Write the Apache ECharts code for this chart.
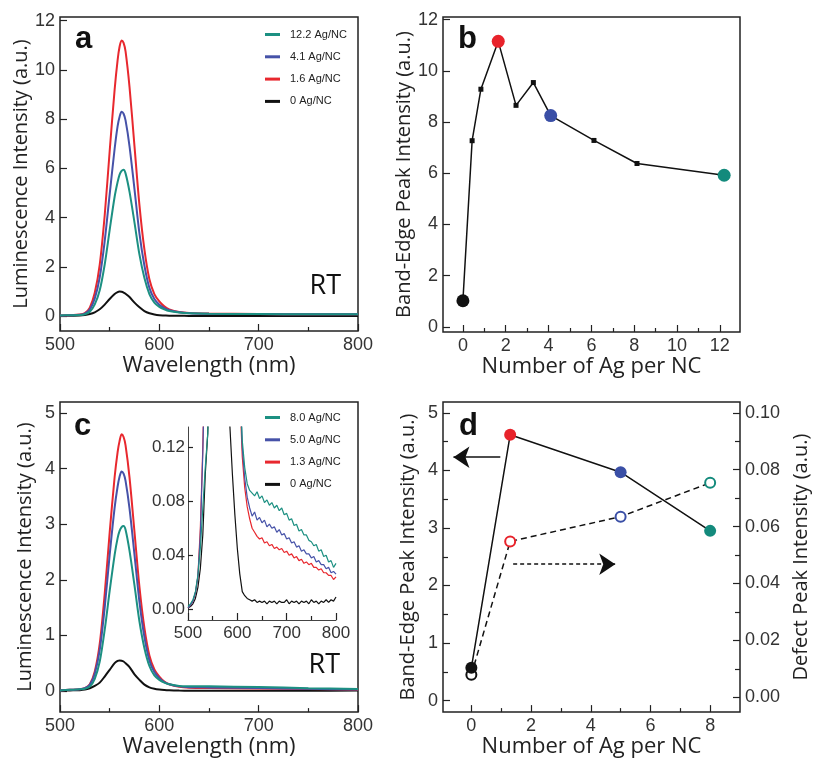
<!DOCTYPE html>
<html>
<head>
<meta charset="utf-8">
<script src="https://cdn.jsdelivr.net/npm/echarts@6/dist/echarts.min.js"></script>
<style>
  html, body { margin: 0; padding: 0; background: #fff; }
  #chart { width: 813px; height: 759px; }
</style>
</head>
<body>
<div id="chart"></div>
<script>
// wavelengths used for the main spectra (nm)
const W = [500, 510, 520, 525, 530, 535, 540, 545, 550, 555, 558, 560, 562, 564, 566, 570, 575, 580, 585, 590, 595, 600, 605, 610, 620, 630, 650, 700, 750, 800];

// panel a spectra
const aTeal = [0.03, 0.04, 0.05, 0.08, 0.18, 0.48, 1.05, 2.1, 3.5, 4.85, 5.45, 5.75, 5.9, 5.95, 5.8, 5.05, 3.8, 2.5, 1.55, 0.9, 0.55, 0.38, 0.28, 0.21, 0.15, 0.12, 0.1, 0.09, 0.08, 0.08];
const aBlue = [0.03, 0.04, 0.06, 0.11, 0.27, 0.72, 1.58, 3.05, 4.95, 6.8, 7.72, 8.1, 8.3, 8.22, 7.95, 6.9, 5.15, 3.35, 2.05, 1.15, 0.7, 0.47, 0.33, 0.24, 0.16, 0.12, 0.1, 0.09, 0.08, 0.08];
const aRed = [0.03, 0.04, 0.07, 0.13, 0.35, 0.95, 2.1, 4.1, 6.7, 9.2, 10.4, 10.95, 11.2, 11.1, 10.75, 9.3, 6.9, 4.5, 2.7, 1.5, 0.9, 0.6, 0.4, 0.28, 0.17, 0.13, 0.11, 0.09, 0.08, 0.08];
const aBlack = [0.01, 0.02, 0.03, 0.05, 0.09, 0.16, 0.28, 0.47, 0.7, 0.9, 0.98, 1.0, 0.99, 0.96, 0.91, 0.78, 0.55, 0.36, 0.21, 0.12, 0.07, 0.04, 0.03, 0.02, 0.02, 0.01, 0.01, 0.01, 0.01, 0.01];

// panel b
const bX = [0, 0.43, 0.84, 1.65, 2.48, 3.29, 4.1, 6.12, 8.13, 12.2];
const bY = [1.02, 7.27, 9.28, 11.15, 8.65, 9.54, 8.25, 7.28, 6.38, 5.92];
const bHiX = [0, 1.65, 4.1, 12.2];
const bHiY = [1.02, 11.15, 8.25, 5.92];

// panel c spectra
const cTeal = [0.01, 0.02, 0.03, 0.04, 0.08, 0.22, 0.53, 1.1, 1.8, 2.45, 2.75, 2.88, 2.95, 2.97, 2.9, 2.52, 1.9, 1.25, 0.77, 0.45, 0.28, 0.2, 0.15, 0.12, 0.09, 0.086, 0.084, 0.071, 0.05, 0.034];
const cBlue = [0.01, 0.02, 0.03, 0.05, 0.11, 0.31, 0.74, 1.5, 2.45, 3.3, 3.68, 3.86, 3.95, 3.91, 3.78, 3.28, 2.45, 1.6, 0.97, 0.55, 0.34, 0.23, 0.16, 0.12, 0.083, 0.069, 0.064, 0.052, 0.038, 0.026];
const cRed = [0.01, 0.02, 0.03, 0.05, 0.12, 0.35, 0.85, 1.75, 2.85, 3.85, 4.3, 4.5, 4.62, 4.57, 4.42, 3.84, 2.86, 1.87, 1.13, 0.64, 0.39, 0.26, 0.17, 0.12, 0.075, 0.06, 0.053, 0.043, 0.034, 0.024];
const cBlack = [0.005, 0.01, 0.015, 0.025, 0.05, 0.09, 0.15, 0.26, 0.38, 0.5, 0.54, 0.55, 0.545, 0.53, 0.5, 0.43, 0.3, 0.2, 0.115, 0.066, 0.04, 0.025, 0.016, 0.011, 0.007, 0.006, 0.005, 0.006, 0.005, 0.008];

// inset of panel c (zoomed low-intensity region)
const IW = [500, 505, 510, 515, 520, 525, 530, 535, 540, 545, 550, 580, 585, 590, 595, 600, 605, 610, 615, 620, 625, 630, 635, 640, 645, 650, 655, 660, 665, 670, 675, 680, 685, 690, 695, 700, 705, 710, 715, 720, 725, 730, 735, 740, 745, 750, 755, 760, 765, 770, 775, 780, 785, 790, 795, 800];
const iTeal = [0.002, 0.004, 0.007, 0.013, 0.025, 0.045, 0.075, 0.105, 0.13, 0.2, 0.5, 2.0, 1.2, 0.75, 0.45, 0.28, 0.17, 0.125, 0.105, 0.093, 0.088, 0.086, 0.084, 0.087, 0.082, 0.084, 0.079, 0.081, 0.077, 0.079, 0.075, 0.077, 0.073, 0.075, 0.07, 0.071, 0.066, 0.067, 0.062, 0.063, 0.058, 0.059, 0.055, 0.055, 0.051, 0.05, 0.047, 0.048, 0.043, 0.044, 0.039, 0.04, 0.035, 0.036, 0.031, 0.034];
const iBlue = [0.001, 0.003, 0.006, 0.012, 0.024, 0.055, 0.115, 0.2, 0.3, 0.5, 1.0, 3.0, 1.8, 1.0, 0.55, 0.3, 0.17, 0.12, 0.097, 0.083, 0.075, 0.069, 0.072, 0.066, 0.068, 0.064, 0.066, 0.061, 0.063, 0.06, 0.061, 0.057, 0.059, 0.055, 0.056, 0.052, 0.053, 0.049, 0.05, 0.046, 0.047, 0.043, 0.044, 0.041, 0.041, 0.038, 0.039, 0.035, 0.036, 0.033, 0.033, 0.03, 0.031, 0.027, 0.028, 0.026];
const iRed = [0.001, 0.003, 0.006, 0.012, 0.024, 0.06, 0.12, 0.21, 0.32, 0.55, 1.1, 3.5, 2.0, 1.1, 0.6, 0.3, 0.16, 0.113, 0.09, 0.076, 0.067, 0.06, 0.057, 0.054, 0.052, 0.053, 0.049, 0.05, 0.047, 0.048, 0.045, 0.046, 0.044, 0.045, 0.042, 0.043, 0.04, 0.041, 0.038, 0.039, 0.036, 0.037, 0.034, 0.035, 0.033, 0.034, 0.031, 0.031, 0.029, 0.03, 0.027, 0.027, 0.025, 0.025, 0.022, 0.024];
const iBlack = [0.001, 0.002, 0.004, 0.008, 0.016, 0.03, 0.055, 0.1, 0.13, 0.2, 0.35, 0.2, 0.135, 0.1, 0.07, 0.045, 0.026, 0.013, 0.01, 0.008, 0.007, 0.006, 0.007, 0.005, 0.006, 0.005, 0.006, 0.004, 0.006, 0.005, 0.006, 0.004, 0.006, 0.005, 0.005, 0.007, 0.004, 0.006, 0.005, 0.006, 0.004, 0.006, 0.005, 0.006, 0.004, 0.007, 0.005, 0.006, 0.004, 0.006, 0.005, 0.007, 0.005, 0.007, 0.006, 0.009];

// panel d
const dX = [0, 1.3, 5.0, 8.0];
const dBand = [0.57, 4.62, 3.97, 2.95];
const dDefect = [0.0079, 0.0548, 0.0635, 0.0754];
const arrowLeft = [[0.97, 4.23], [-0.6, 4.23]];
const arrowRight = [[1.4, 2.37], [4.82, 2.37]];

// tick values
const ticksA = [0, 2, 4, 6, 8, 10, 12];
const ticksBx = [0, 2, 4, 6, 8, 10, 12];
const minorBx = [1, 3, 5, 7, 9, 11];
const ticksC = [0, 1, 2, 3, 4, 5];
const ticksDx = [0, 2, 4, 6, 8];
const minorDx = [1, 3, 5, 7];
const ticksDl = [0, 1, 2, 3, 4, 5];
const minorDl = [0.5, 1.5, 2.5, 3.5, 4.5];
const ticksDr = [0, 0.02, 0.04, 0.06, 0.08, 0.1];
const minorDr = [0.01, 0.03, 0.05, 0.07, 0.09];
const ticksInset = [0, 0.04, 0.08, 0.12];

const RED = '#e8232b', BLUE = '#3a4fa6', TEAL = '#138a7c', BLACK = '#111';
const LINE_TEAL = '#1c9082', LINE_BLUE = '#4652a8', LINE_RED = '#e8282e';
const colorsPts = [BLACK, RED, BLUE, TEAL];

const zip = (xs, ys) => xs.map((x, i) => [x, ys[i]]);

const labelFont = { color: '#333', fontSize: 18, fontFamily: 'Liberation Sans' };

function valAxis(o) {
  const ax = {
    type: 'value',
    gridIndex: o.grid,
    position: o.position,
    min: o.min,
    max: o.max,
    axisLine: { show: !!o.line, onZero: false, lineStyle: { color: '#444', width: 1 } },
    splitLine: { show: false },
    minorSplitLine: { show: false },
    axisTick: { inside: true, length: o.tickLen || 7, lineStyle: { color: '#222', width: 1.2 } },
    axisLabel: Object.assign({ margin: o.margin || 5, show: !o.noLabel }, labelFont, o.label || {})
  };
  if (o.interval) {
    ax.interval = o.interval;
    ax.minorTick = { show: true, splitNumber: 2, length: 4, lineStyle: { color: '#222', width: 1.2 } };
  }
  if (o.ticks) {
    ax.axisTick.customValues = o.ticks;
    ax.axisLabel.customValues = o.ticks;
  }
  if (o.name) {
    ax.name = o.name;
    ax.nameLocation = 'middle';
    ax.nameGap = o.nameGap;
    ax.nameTextStyle = { color: '#222', fontSize: o.nameSize, fontFamily: 'Open Sans' };
  }
  return ax;
}

const gridStyle = { show: true, borderColor: '#222', borderWidth: 1.5, backgroundColor: 'transparent' };

const option = {
  animation: false,
  backgroundColor: '#fff',
  grid: [
    Object.assign({ left: 60, top: 17, width: 298, height: 314 }, gridStyle),
    Object.assign({ left: 443, top: 17, width: 297, height: 315 }, gridStyle),
    Object.assign({ left: 60, top: 402, width: 298, height: 312 }, gridStyle),
    Object.assign({ left: 443, top: 402, width: 297, height: 313 }, gridStyle),
    { left: 188, top: 427, width: 148, height: 193, show: false }
  ],
  xAxis: [
    valAxis({ grid: 0, position: 'bottom', min: 500, max: 800, interval: 100, name: 'Wavelength (nm)', nameGap: 15, nameSize: 22 }),
    valAxis({ grid: 1, position: 'bottom', min: -0.93, max: 12.94, ticks: ticksBx, name: 'Number of Ag per NC', nameGap: 14, nameSize: 22 }),
    valAxis({ grid: 1, position: 'bottom', min: -0.93, max: 12.94, ticks: minorBx, tickLen: 4, noLabel: true }),
    valAxis({ grid: 2, position: 'bottom', min: 500, max: 800, interval: 100, name: 'Wavelength (nm)', nameGap: 20, nameSize: 22 }),
    valAxis({ grid: 3, position: 'bottom', min: -0.95, max: 9.0, ticks: ticksDx, name: 'Number of Ag per NC', nameGap: 16, nameSize: 22 }),
    valAxis({ grid: 3, position: 'bottom', min: -0.95, max: 9.0, ticks: minorDx, tickLen: 4, noLabel: true }),
    valAxis({ grid: 4, position: 'bottom', min: 500, max: 800, interval: 100, line: true, margin: 5, label: { fontSize: 17 } })
  ],
  yAxis: [
    valAxis({ grid: 0, position: 'left', min: -0.6, max: 12.15, ticks: ticksA, name: 'Luminescence Intensity (a.u.)', nameGap: 25, nameSize: 20 }),
    valAxis({ grid: 1, position: 'left', min: -0.2, max: 12.1, ticks: ticksA, name: 'Band-Edge Peak Intensity (a.u.)', nameGap: 25, nameSize: 20 }),
    valAxis({ grid: 2, position: 'left', min: -0.38, max: 5.2, ticks: ticksC, name: 'Luminescence Intensity (a.u.)', nameGap: 25, nameSize: 20 }),
    valAxis({ grid: 3, position: 'left', min: -0.2, max: 5.19, ticks: ticksDl, name: 'Band-Edge Peak Intensity (a.u.)', nameGap: 25, nameSize: 20 }),
    valAxis({ grid: 3, position: 'left', min: -0.2, max: 5.19, ticks: minorDl, tickLen: 5, noLabel: true }),
    valAxis({ grid: 3, position: 'right', min: -0.0052, max: 0.1038, ticks: ticksDr, name: 'Defect Peak Intensity (a.u.)', nameGap: 51, nameSize: 20,
      label: { formatter: v => v.toFixed(2) } }),
    valAxis({ grid: 3, position: 'right', min: -0.0052, max: 0.1038, ticks: minorDr, tickLen: 5, noLabel: true }),
    valAxis({ grid: 4, position: 'left', min: -0.008, max: 0.135, ticks: ticksInset, line: true, tickLen: 5, margin: 3,
      label: { fontSize: 17, formatter: v => v.toFixed(2) } })
  ],
  legend: [
    {
      left: 265, top: 29, orient: 'vertical', padding: 0, itemGap: 11.3, itemWidth: 15, itemHeight: 3, icon: 'rect',
      textStyle: { fontSize: 11, fontFamily: 'Liberation Sans', color: '#222', padding: [0, 0, 0, 5] },
      data: ['12.2 Ag/NC', '4.1 Ag/NC', '1.6 Ag/NC', '0 Ag/NC']
    },
    {
      left: 265, top: 412, orient: 'vertical', padding: 0, itemGap: 11.3, itemWidth: 15, itemHeight: 3, icon: 'rect',
      textStyle: { fontSize: 11, fontFamily: 'Liberation Sans', color: '#222', padding: [0, 0, 0, 5] },
      data: ['8.0 Ag/NC', '5.0 Ag/NC', '1.3 Ag/NC', '0 Ag/NC']
    }
  ],
  graphic: [
    { type: 'text', x: 75, y: 39, style: { text: 'a', font: 'bold 31px "Liberation Sans"', fill: '#111', verticalAlign: 'middle' } },
    { type: 'text', x: 458, y: 39, style: { text: 'b', font: 'bold 31px "Liberation Sans"', fill: '#111', verticalAlign: 'middle' } },
    { type: 'text', x: 74, y: 426, style: { text: 'c', font: 'bold 31px "Liberation Sans"', fill: '#111', verticalAlign: 'middle' } },
    { type: 'text', x: 459, y: 426, style: { text: 'd', font: 'bold 31px "Liberation Sans"', fill: '#111', verticalAlign: 'middle' } },
    { type: 'text', x: 341, y: 286, style: { text: 'RT', font: '27px "Open Sans"', fill: '#111', align: 'right', verticalAlign: 'middle' } },
    { type: 'text', x: 340, y: 665, style: { text: 'RT', font: '27px "Open Sans"', fill: '#111', align: 'right', verticalAlign: 'middle' } }
  ],
  series: []
};

function spectrum(name, xi, yi, xs, ys, color, width) {
  return {
    name: name, type: 'line', xAxisIndex: xi, yAxisIndex: yi,
    data: zip(xs, ys), showSymbol: false, smooth: width > 1.5 ? 0.3 : false,
    lineStyle: { color: color, width: width }, itemStyle: { color: color }
  };
}

option.series.push(
  spectrum('0 Ag/NC', 0, 0, W, aBlack, BLACK, 2),
  spectrum('1.6 Ag/NC', 0, 0, W, aRed, LINE_RED, 2),
  spectrum('4.1 Ag/NC', 0, 0, W, aBlue, LINE_BLUE, 2),
  spectrum('12.2 Ag/NC', 0, 0, W, aTeal, LINE_TEAL, 2),
  spectrum('0 Ag/NC', 3, 2, W, cBlack, BLACK, 2),
  spectrum('1.3 Ag/NC', 3, 2, W, cRed, LINE_RED, 2),
  spectrum('5.0 Ag/NC', 3, 2, W, cBlue, LINE_BLUE, 2),
  spectrum('8.0 Ag/NC', 3, 2, W, cTeal, LINE_TEAL, 2),
  spectrum('inset 0', 6, 7, IW, iBlack, BLACK, 1.2),
  spectrum('inset 1.3', 6, 7, IW, iRed, LINE_RED, 1.2),
  spectrum('inset 5.0', 6, 7, IW, iBlue, LINE_BLUE, 1.2),
  spectrum('inset 8.0', 6, 7, IW, iTeal, LINE_TEAL, 1.2)
);

// panel b
option.series.push(
  {
    name: 'b line', type: 'line', xAxisIndex: 1, yAxisIndex: 1, data: zip(bX, bY), z: 2,
    symbol: 'rect', symbolSize: 5, lineStyle: { color: BLACK, width: 1.5 }, itemStyle: { color: BLACK }
  },
  {
    name: 'b points', type: 'scatter', xAxisIndex: 1, yAxisIndex: 1, symbolSize: 13, z: 5,
    data: bHiX.map((x, i) => ({ value: [x, bHiY[i]], itemStyle: { color: colorsPts[i], opacity: 1 } }))
  }
);

// panel d
option.series.push(
  {
    name: 'd defect', type: 'line', xAxisIndex: 4, yAxisIndex: 5,
    data: dX.map((x, i) => ({ value: [x, dDefect[i]], itemStyle: { color: colorsPts[i], borderWidth: 2 } })),
    symbol: 'emptyCircle', symbolSize: 10, lineStyle: { color: BLACK, width: 1.5, type: [6, 4] }
  },
  {
    name: 'd band', type: 'line', xAxisIndex: 4, yAxisIndex: 3,
    data: dX.map((x, i) => ({ value: [x, dBand[i]], itemStyle: { color: colorsPts[i] } })),
    symbol: 'circle', symbolSize: 12, lineStyle: { color: BLACK, width: 1.5 },
    markLine: {
      silent: true, symbol: ['none', 'arrow'], symbolSize: 16, label: { show: false },
      lineStyle: { color: BLACK, width: 1.5, type: 'solid' },
      emphasis: { disabled: true },
      data: [
        [{ coord: arrowLeft[0] }, { coord: arrowLeft[1] }],
        [{ coord: arrowRight[0], lineStyle: { type: [4, 3] } }, { coord: arrowRight[1], lineStyle: { type: [4, 3] } }]
      ]
    }
  }
);

const chart = echarts.init(document.getElementById('chart'));
chart.setOption(option);
</script>
</body>
</html>
